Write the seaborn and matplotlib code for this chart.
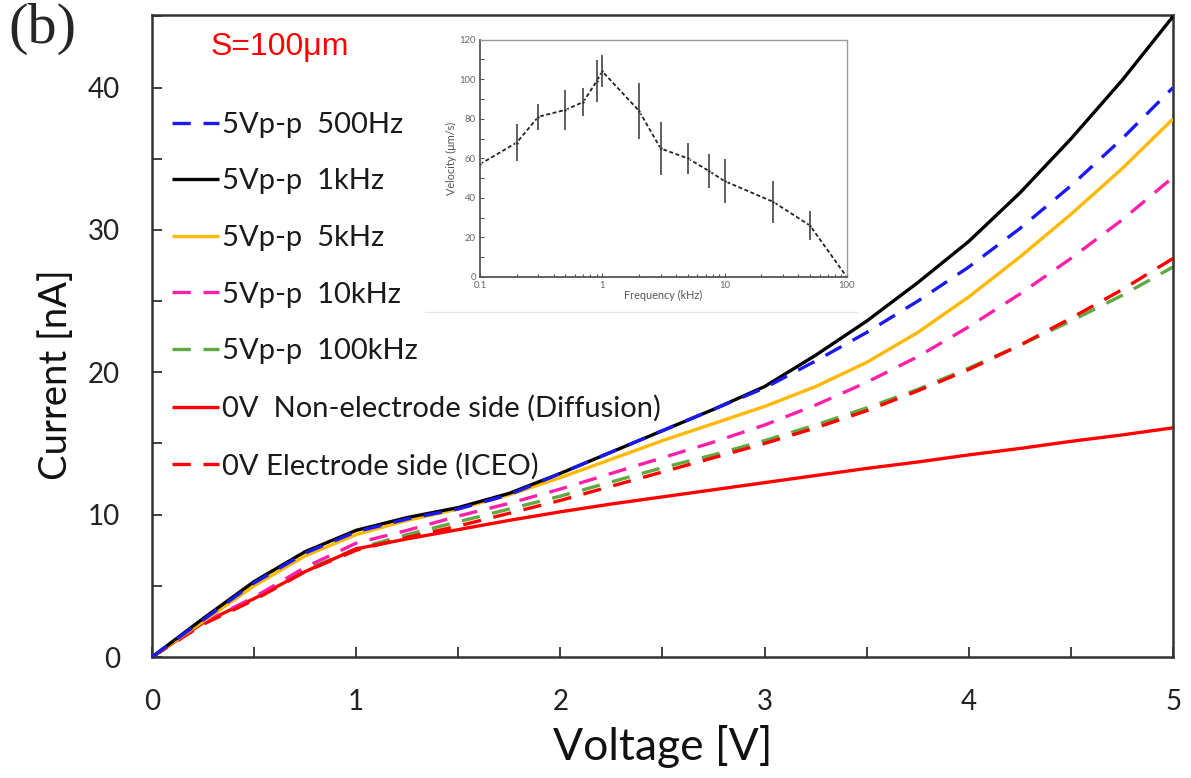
import numpy as np
import pandas as pd
import matplotlib
matplotlib.use("Agg")
import matplotlib.pyplot as plt
import seaborn as sns
from matplotlib.ticker import MultipleLocator, NullFormatter
from matplotlib.lines import Line2D

# ---------------- data ----------------
voltage = [0, 0.25, 0.5, 0.75, 1.0, 1.25, 1.5, 1.75, 2.0, 2.25, 2.5, 2.75,
           3.0, 3.25, 3.5, 3.75, 4.0, 4.25, 4.5, 4.75, 5.0]

i_500hz = [0, 2.6, 5.2, 7.3, 8.8, 9.7, 10.4, 11.4, 12.9, 14.4, 15.9, 17.4,
           18.9, 20.8, 22.8, 25.0, 27.4, 30.1, 33.1, 36.4, 40.0]
i_1khz = [0, 2.7, 5.3, 7.4, 8.9, 9.8, 10.5, 11.5, 12.9, 14.4, 15.9, 17.4,
          19.0, 21.2, 23.6, 26.3, 29.2, 32.6, 36.4, 40.5, 45.0]
i_5khz = [0, 2.5, 5.0, 7.1, 8.6, 9.6, 10.4, 11.4, 12.6, 13.9, 15.2, 16.4,
          17.6, 19.0, 20.7, 22.8, 25.3, 28.1, 31.1, 34.3, 37.8]
i_10khz = [0, 2.4, 4.2, 6.3, 8.0, 8.9, 9.9, 10.8, 11.8, 12.9, 14.0, 15.1,
           16.3, 17.7, 19.3, 21.1, 23.2, 25.5, 28.0, 30.7, 33.7]
i_100khz = [0, 2.3, 4.1, 6.1, 7.6, 8.6, 9.5, 10.4, 11.3, 12.3, 13.3, 14.2,
            15.2, 16.3, 17.5, 18.8, 20.3, 21.9, 23.6, 25.4, 27.4]
i_diff = [0, 2.4, 4.1, 6.0, 7.6, 8.3, 8.95, 9.6, 10.2, 10.75, 11.25, 11.75,
          12.25, 12.75, 13.25, 13.7, 14.2, 14.65, 15.15, 15.6, 16.1]
i_iceo = [0, 2.3, 4.0, 6.0, 7.5, 8.4, 9.2, 10.1, 11.0, 12.0, 13.0, 14.0,
          15.0, 16.1, 17.3, 18.7, 20.2, 21.9, 23.8, 25.8, 28.0]

labels = ["5Vp-p  500Hz", "5Vp-p  1kHz", "5Vp-p  5kHz", "5Vp-p  10kHz",
          "5Vp-p  100kHz", "0V  Non-electrode side (Diffusion)",
          "0V Electrode side (ICEO)"]

# inset data
freq_khz = [0.1, 0.2, 0.3, 0.5, 0.7, 0.9, 1.0, 2, 3, 5, 7.5, 10, 25, 50, 100]
velocity = [57, 68, 81, 84.5, 88.5, 99, 104, 84, 65, 60, 53.5, 48.5, 38, 26, 0]
vel_err = [0, 9.5, 6.5, 10, 7, 10.5, 8, 14, 13.5, 8, 8.5, 11, 10.5, 7.5, 0]

# ---------------- style ----------------
sns.set_theme(style="white")
plt.rcParams["font.family"] = ["Lato", "DejaVu Sans"]

fig = plt.figure(figsize=(11.91, 7.78), dpi=100)
ax = fig.add_axes([0.1276, 0.1555, 0.8573, 0.8252])

series = [i_500hz, i_1khz, i_5khz, i_10khz, i_100khz, i_diff, i_iceo]
colors = ["#1A1AF0", "#000000", "#FFB800", "#FF1FA8", "#5FA842", "#FF0000", "#FF0000"]
dashed = [True, False, False, True, True, False, True]
zorders = [6, 5, 4, 3, 2, 2.5, 3]

for vals, lab, col, dsh, zo in zip(series, labels, colors, dashed, zorders):
    df = pd.DataFrame({"Voltage": voltage, "Current": vals})
    sns.lineplot(data=df, x="Voltage", y="Current", ax=ax, color=col,
                 linewidth=2.4, label=lab, zorder=zo, sort=False)
    ln = ax.lines[-1]
    if dsh:
        ln.set_linestyle((0, (5.5, 3.8)))
    ln.set_solid_capstyle("butt")
    ln.set_dash_capstyle("butt")
    ln.set_solid_joinstyle("round")

ax.set_xlim(0, 5)
ax.set_ylim(0, 45.1)
ax.xaxis.set_major_locator(MultipleLocator(1))
ax.xaxis.set_minor_locator(MultipleLocator(0.5))
ax.yaxis.set_major_locator(MultipleLocator(10))
ax.yaxis.set_minor_locator(MultipleLocator(5))
ax.tick_params(axis="both", which="both", direction="in", length=7, width=1.3,
               color="#333333", bottom=True, left=True, top=False, right=False)
ax.tick_params(axis="x", which="major", labelsize=20, pad=23, labelcolor="#222222")
ax.tick_params(axis="y", which="major", labelsize=20, pad=23, labelcolor="#222222")
for s in ax.spines.values():
    s.set_color("#333333")
    s.set_linewidth(1.8)
ax.set_xlabel("Voltage [V]", fontsize=32, labelpad=7, color="#111111")
ax.set_ylabel("Current [nA]", fontsize=27.5, color="#111111")
ax.yaxis.set_label_coords(-0.076, 0.44)

leg = ax.legend(loc="upper left", bbox_to_anchor=(0.0, 0.881), frameon=False,
                fontsize=21, handlelength=1.6, handletextpad=0.1,
                labelspacing=1.05, borderaxespad=0.3)
for t in leg.get_texts():
    t.set_color("#1a1a1a")

ax.text(0.057, 0.950, "S=100μm", transform=ax.transAxes, color="#FF0000",
        fontsize=23, va="center", ha="left", family=["Liberation Sans", "DejaVu Sans"])

fig.text(0.007, 0.997, "(b)", fontsize=42, va="top", ha="left",
         family=["Liberation Serif", "DejaVu Serif"])

# ---------------- inset ----------------
ins = fig.add_axes([0.403, 0.644, 0.308, 0.305])
ins.set_facecolor("white")
idf = pd.DataFrame({"Frequency": freq_khz, "Velocity": velocity})
sns.lineplot(data=idf, x="Frequency", y="Velocity", ax=ins, color="#222222",
             linewidth=1.3, marker="o", markersize=2.5, sort=False)
ins.lines[-1].set_linestyle((0, (2.2, 1.4)))
ins.errorbar(freq_khz, velocity, yerr=vel_err, fmt="none", ecolor="#333333",
             elinewidth=1.1, capsize=0)
ins.set_xscale("log")
ins.set_xlim(0.1, 100)
ins.set_ylim(0, 120)
ins.set_xticks([0.1, 1, 10, 100])
ins.set_xticklabels(["0.1", "1", "10", "100"])
ins.yaxis.set_major_locator(MultipleLocator(20))
ins.yaxis.set_minor_locator(MultipleLocator(10))
ins.xaxis.set_minor_formatter(NullFormatter())
ins.tick_params(axis="both", which="both", direction="in", length=3, width=0.8,
                color="#555555", labelsize=6.8, labelcolor="#666666",
                bottom=True, left=True, pad=3)
ins.tick_params(axis="x", which="minor", length=2.5)
for s in ins.spines.values():
    s.set_color("#999999")
    s.set_linewidth(1.0)
for s in ["left", "bottom"]:
    ins.spines[s].set_color("#555555")
    ins.spines[s].set_linewidth(1.3)
ins.set_xlabel("Frequency (kHz)", fontsize=7.8, color="#555555", labelpad=0)
ins.set_ylabel("Velocity (μm/s)", fontsize=7.8, color="#555555", labelpad=2)

# faint border under the pasted inset
fig.add_artist(Line2D([0.357, 0.72], [0.599, 0.599], transform=fig.transFigure,
                      color="#e6e6e6", linewidth=1.0))

fig.savefig("out.png", dpi=100)
